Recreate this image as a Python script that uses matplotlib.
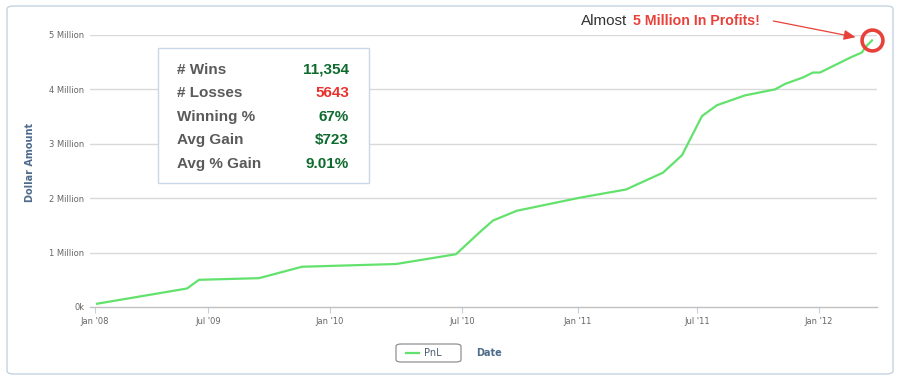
import matplotlib
matplotlib.use("Agg")
import matplotlib.pyplot as plt
from matplotlib.patches import FancyBboxPatch, Rectangle

# ---- data (ordinal session index vs PnL in millions) ----
session_idx = [2, 92, 104, 164, 207, 301, 361, 385, 398, 422, 485, 531, 568,
               587, 607, 622, 650, 680, 690, 708, 718, 725, 757, 767, 770, 777]
pnl_millions = [0.06, 0.34, 0.50, 0.53, 0.74, 0.79, 0.97, 1.38, 1.59, 1.77, 2.01,
                2.16, 2.47, 2.79, 3.51, 3.71, 3.89, 4.00, 4.10, 4.22, 4.31, 4.31,
                4.60, 4.68, 4.77, 4.90]
tick_idx = [0, 113, 235, 367, 483, 602, 724]
tick_labels = ["Jan '08", "Jul '09", "Jan '10", "Jul '10", "Jan '11", "Jul '11", "Jan '12"]
y_ticks = [0, 1, 2, 3, 4, 5]
y_labels = ["0k", "1 Million", "2 Million", "3 Million", "4 Million", "5 Million"]
stat_names = ["# Wins", "# Losses", "Winning %", "Avg Gain", "Avg % Gain"]
stat_values = ["11,354", "5643", "67%", "$723", "9.01%"]
stat_colors = ["#0e6b2e", "#e8332e", "#0e6b2e", "#0e6b2e", "#0e6b2e"]

W, H = 900, 380
fig = plt.figure(figsize=(9, 3.8), dpi=100)
fig.patch.set_facecolor("white")

def fx(px):
    return px / W

def fy(py):
    return 1 - py / H

# outer frame
frame = FancyBboxPatch((fx(7), fy(374)), fx(893) - fx(7), fy(6) - fy(374),
                       boxstyle="round,pad=0,rounding_size=0.008",
                       transform=fig.transFigure, facecolor="none",
                       edgecolor="#c5d3e2", linewidth=1.0, zorder=-1)
fig.patches.append(frame)

ax = fig.add_axes([fx(90), fy(307), fx(877) - fx(90), fy(35) - fy(307)])
ax.set_facecolor("none")
ax.set_xlim(-5, 782)
ax.set_ylim(0, 5)
for s in ["top", "right", "left"]:
    ax.spines[s].set_visible(False)
ax.spines["bottom"].set_color("#c0c0c0")
ax.spines["bottom"].set_linewidth(1.0)

for v in y_ticks[1:]:
    ax.axhline(v, color="#d9d9d9", linewidth=1.0, zorder=1)

ax.plot(session_idx, pnl_millions, color="#62e26c", linewidth=1.6, zorder=3,
        solid_joinstyle="round", label="PnL")

ax.set_yticks(y_ticks)
ax.set_yticklabels(y_labels, fontsize=6, color="#666666")
ax.tick_params(axis="y", length=0, pad=4)
ax.set_xticks(tick_idx)
ax.set_xticklabels(tick_labels, fontsize=6, color="#666666")
ax.tick_params(axis="x", length=4, color="#c0d0e0", pad=3, direction="out")

fig.text(fx(30), fy(162), "Dollar Amount", rotation=90, ha="center", va="center",
         fontsize=7, fontweight="bold", color="#4d6b8c")
fig.text(fx(489), fy(353), "Date", ha="center", va="center",
         fontsize=7, fontweight="bold", color="#4d6b8c")

# legend (frame drawn separately to match the wide rounded box)
leg_box = FancyBboxPatch((fx(396), fy(362)), fx(461) - fx(396), fy(344) - fy(362),
                         boxstyle="round,pad=0,rounding_size=0.006",
                         transform=fig.transFigure, facecolor="white",
                         edgecolor="#909090", linewidth=0.9, zorder=-1)
fig.patches.append(leg_box)
leg = fig.legend(loc="center left", bbox_to_anchor=(fx(398), fy(353)),
                 fontsize=7, frameon=False, handlelength=1.4,
                 handletextpad=0.5, borderpad=0.3, labelcolor="#4d5d70")

# stats box
box = Rectangle((fx(158), fy(183)), fx(369) - fx(158), fy(48) - fy(183),
                transform=fig.transFigure, facecolor="white",
                edgecolor="#c9d7e6", linewidth=1.0, zorder=5)
fig.patches.append(box)
row_y = [70, 93, 117, 140, 164]
for name, val, col, ry in zip(stat_names, stat_values, stat_colors, row_y):
    fig.text(fx(177), fy(ry), name, ha="left", va="center", fontsize=11,
             fontweight="bold", color="#5a5a5a", family="Liberation Sans", zorder=6)
    fig.text(fx(349), fy(ry), val, ha="right", va="center", fontsize=11,
             fontweight="bold", color=col, family="Liberation Sans", zorder=6)

# annotation
xl, yl = session_idx[-1], pnl_millions[-1]
ax.plot([xl], [yl], marker="o", markersize=15, markerfacecolor="none",
        markeredgecolor="#e8413a", markeredgewidth=2.6, clip_on=False, zorder=6)
ax.annotate("", xy=(xl, yl), xytext=(-71, 14), textcoords="offset points",
            arrowprops=dict(arrowstyle="-|>,head_length=0.7,head_width=0.3",
                            color="#e8413a", lw=0.9, shrinkA=0, shrinkB=12),
            annotation_clip=False, zorder=6)
fig.text(fx(581), fy(21), "Almost", ha="left", va="center", fontsize=11,
         color="#333333", family="Liberation Sans")
fig.text(fx(633), fy(21), "5 Million In Profits!", ha="left", va="center",
         fontsize=10.2, fontweight="bold", color="#e8413a",
         family="Liberation Sans")

fig.savefig("out.png", dpi=100, facecolor="white")
